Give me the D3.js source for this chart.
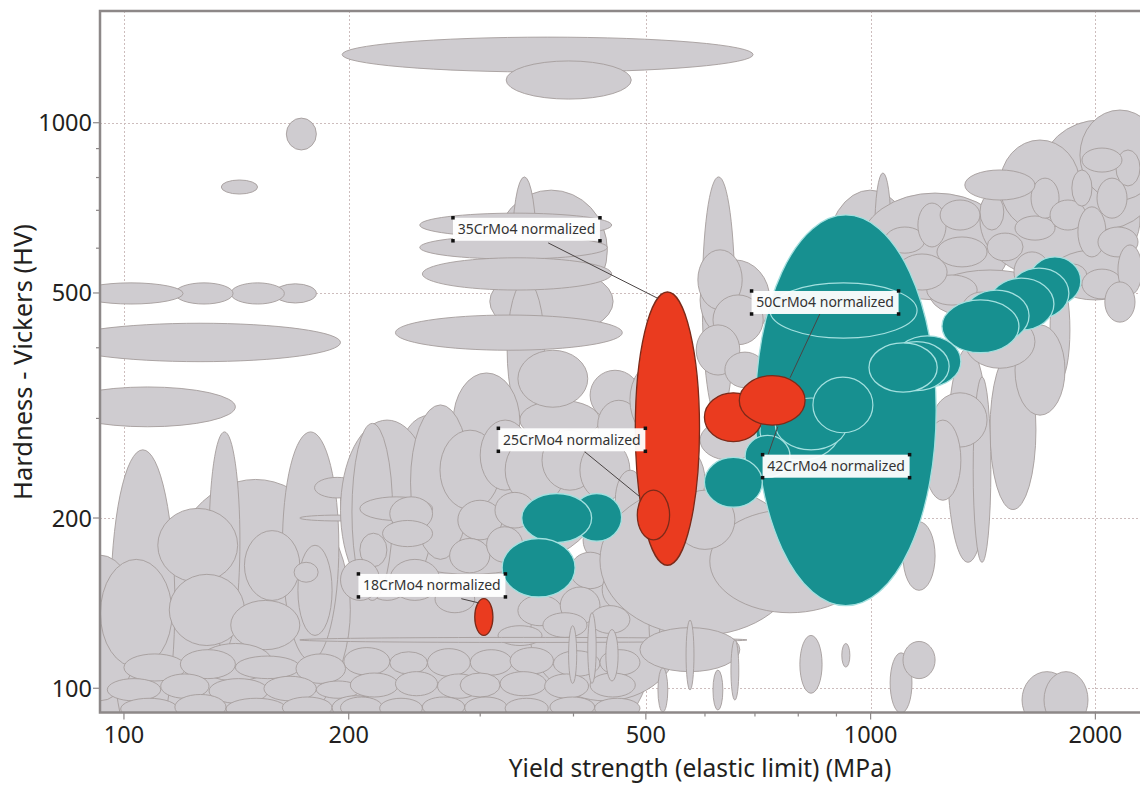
<!DOCTYPE html>
<html>
<head>
<meta charset="utf-8">
<script src="https://cdn.jsdelivr.net/npm/d3@7"></script>
<style>
  body { margin: 0; background: #fff; }
  svg text { font-family: "Noto Sans", "DejaVu Sans", sans-serif; }
</style>
</head>
<body>
<svg id="chart" width="1140" height="785"></svg>
<script>
// Material property chart: yield strength vs Vickers hardness (both log scales).
// Every bubble is a material: [yield min, yield max, hardness min, hardness max].

const xTickLabels = [100, 200, 500, 1000, 2000];
const yTickLabels = [100, 200, 500, 1000];
const xTitle = "Yield strength (elastic limit) (MPa)";
const yTitle = "Hardness - Vickers (HV)";

// Broad families that sit underneath the dense lower cloud
const greyBackdrop = [
  [90, 214, 61, 176], [177, 506, 69, 183], [350, 556, 95, 162], [195, 434, 159, 292]
];

// Background materials, upper and left parts of the chart
const greyIsolated = [
  [196, 696, 1229, 1417], [325, 478, 1101, 1286], [165, 181, 895, 1019], [135, 151, 748, 792],
  [159, 181, 480, 519], [139, 164, 478, 521], [117, 140, 478, 521], [87, 120, 478, 521],
  [82, 195, 378, 442], [82, 141, 290, 341]
];

// Column of materials above the 500 MPa region
const greyMiddle = [
  [314, 444, 466, 760], [331, 357, 430, 802], [309, 452, 421, 554], [326, 366, 298, 527],
  [249, 450, 628, 692], [249, 444, 574, 631], [251, 450, 506, 577], [231, 465, 396, 457],
  [339, 434, 275, 323], [337, 418, 314, 396], [276, 339, 243, 361], [421, 491, 298, 365],
  [431, 491, 264, 323], [234, 282, 215, 304]
];

// Softer steels and alloys at the lower left
const greyLeft = [
  [112, 201, 81, 234], [96, 117, 75, 264], [130, 143, 117, 284], [163, 194, 112, 284],
  [82, 105, 95, 172], [93, 116, 109, 169], [111, 142, 154, 208], [115, 145, 119, 159],
  [145, 172, 143, 190], [139, 172, 117, 143], [171, 190, 124, 179], [180, 207, 217, 236],
  [169, 182, 154, 167], [126, 158, 103, 120], [172, 220, 197.6, 202.4],
  [100, 121, 103, 115], [119, 141, 104, 117], [141, 172, 104, 114], [170, 198, 102, 115],
  [95, 112, 95, 104], [112, 130, 96, 106], [130, 156, 94, 104], [154, 181, 95, 105], [181, 207, 96, 103],
  [99, 118, 88, 96], [117, 137, 88, 97.5], [137, 165, 88, 96], [163, 190, 88.5, 96.5], [190, 220, 88, 97]
];

const greyMidLower = [
  [195, 260, 143, 298], [202, 229, 143, 294], [242, 291, 169, 317], [207, 259, 198, 218],
  [227, 259, 190, 218], [222, 259, 178, 198], [207, 225, 164, 188], [195, 220, 143, 169],
  [227, 265, 143, 169],
  [197, 227, 105.5, 118], [227, 255, 106, 116], [255, 291, 105, 117.5],
  [201, 233, 96.5, 106.4], [231, 263, 97, 107], [263, 300, 96, 106],
  [195, 222, 88.5, 96.5], [220, 251, 88.5, 96], [251, 286, 89, 96.5]
];

// Dense cluster around 300-650 MPa
const greyCentre = [
  [265, 319, 207, 286], [300, 350, 224, 298], [324, 390, 211, 280], [363, 431, 224, 286],
  [408, 476, 215, 275], [280, 321, 183, 215], [314, 355, 192, 222], [412, 472, 167, 200],
  [455, 499, 190, 243], [273, 309, 160, 184], [306, 342, 167, 193], [396, 448, 150, 174],
  [437, 488, 138, 162], [261, 295, 136, 152], [337, 386, 129, 146], [384, 434, 130, 151],
  [317, 363, 119, 129], [364, 417, 123, 136], [421, 476, 125, 140],
  [291, 331, 105.5, 117], [329, 376, 106, 118], [376, 434, 105, 116.5], [434, 491, 105.5, 117],
  [282, 319, 96.5, 106.4], [319, 368, 97, 107], [366, 419, 96, 106], [421, 484, 96.5, 106.4],
  [286, 326, 88.5, 96.5], [324, 370, 88.5, 96], [372, 427, 89, 96.5], [427, 491, 88.5, 96],
  [172, 683, 120.5, 123],
  [394, 404, 102, 129], [418, 429, 102, 136], [442, 459, 103, 127], [505, 522, 117, 140]
];

// Quenched and tempered steels, 500-1200 MPa
const greyRightCentre = [
  [434, 804, 124, 229], [609, 998, 136, 207], [491, 668, 107, 128],
  [519, 535, 90.8, 108.6], [566, 580, 99.3, 132], [615, 634, 91.5, 107.7], [650, 666, 95.3, 121.7],
  [514, 600, 202, 269], [547, 658, 176, 224], [591, 711, 253, 298],
  [595, 658, 298, 802], [591, 733, 413, 572], [587, 673, 467, 596], [615, 718, 405, 496],
  [584, 668, 358, 439], [638, 722, 340, 393], [476, 573, 275, 381],
  [869, 1147, 430, 760], [1013, 1065, 510, 815]
];

// High strength steels, upper right
const greyUpperRight = [
  [968, 1537, 486, 751], [1401, 2295, 527, 859], [1686, 2441, 646, 1011], [1907, 2441, 730, 1053],
  [1490, 1907, 646, 932], [1201, 1739, 448, 549], [1739, 2295, 486, 596],
  [1045, 1182, 588, 654], [1157, 1262, 603, 721], [1227, 1432, 556, 628], [1401, 1508, 646, 748],
  [1432, 1600, 570, 638], [1561, 1766, 620, 684], [1640, 1788, 678, 798], [1739, 1942, 646, 730],
  [1860, 1979, 712, 825], [1895, 2066, 579, 710], [2010, 2205, 678, 798], [2016, 2281, 579, 654],
  [2131, 2295, 773, 895], [1919, 2171, 818, 902], [1189, 1389, 476, 538], [1325, 1499, 434, 502],
  [1556, 1739, 502, 591], [1777, 1949, 510, 563], [1919, 2171, 488, 551], [2144, 2309, 496, 608],
  [1085, 1266, 506, 586], [2059, 2260, 444, 523], [1337, 1660, 730, 825], [1239, 1401, 646, 730]
];

const greyLowerRight = [
  [1266, 1440, 167, 400], [1445, 1665, 207, 396], [1372, 1449, 167, 355], [1739, 1849, 351, 527],
  [1212, 1432, 267, 333], [1105, 1220, 149, 197], [1182, 1321, 215, 298], [1561, 1821, 304, 439],
  [1337, 1660, 368, 457],
  [804, 861, 98, 124], [915, 938, 109, 120], [1062, 1136, 90.4, 115.5], [1105, 1220, 104, 121],
  [1595, 1860, 85, 107], [1707, 1955, 85, 107]
];

// Highlighted family (teal)
const tealBig = [[701, 1224, 140, 687]];
const tealInner = [[733, 1154, 416, 521], [711, 910, 253, 323], [745, 930, 264, 326], [837, 1007, 283, 355]];
const tealChain = [
  [1630, 1912, 476, 579], [1532, 1843, 451, 553], [1440, 1760, 430, 531], [1334, 1630, 410, 506],
  [1246, 1580, 392, 486], [1075, 1321, 341, 420], [1043, 1274, 336, 410], [995, 1228, 334, 408]
];
const tealLow = [[398, 464, 182, 221], [341, 423, 181, 221], [321, 402, 145, 184], [679, 780, 236, 280], [599, 716, 209, 256]];

// Cr-Mo steels, normalized (red)
const redGrades = ["35CrMo4", "25CrMo4", "42CrMo4", "50CrMo4", "18CrMo4"];
const redRanges = [[484, 590, 165, 502], [487, 538, 183, 224], [599, 716, 273, 333], [667, 817, 292, 357], [295, 312, 124, 144]];

// Annotation labels (data space): label centre, leader start, leader end
const labelTexts = ["35CrMo4 normalized", "25CrMo4 normalized", "50CrMo4 normalized", "42CrMo4 normalized", "18CrMo4 normalized"];
const labelCentres = [[346, 648], [398, 275], [869, 481], [899, 247], [258.5, 152]];
const leaderStarts = [[370, 613], [414, 262], [855, 459], [729, 259], [283, 144]];
const leaderEnds = [[519, 489], [491, 218], [780, 354], [751, 290], [299, 141.5]];

const svg = d3.select("#chart");
const plot = { left: 100, right: 1140, top: 11, bottom: 712.5 };

const x = d3.scaleLog().domain([92.88, 2295]).range([plot.left, plot.right]);
const y = d3.scaleLog().domain([90.6, 1576]).range([plot.bottom, plot.top]);

svg.append("defs").append("clipPath").attr("id", "plotClip")
  .append("rect")
  .attr("x", plot.left).attr("y", plot.top)
  .attr("width", plot.right - plot.left).attr("height", plot.bottom - plot.top);

// grid
const grid = svg.append("g").attr("stroke", "#cdbdbd").attr("stroke-width", 1).attr("stroke-dasharray", "2,2");
grid.selectAll(null).data(xTickLabels).join("line")
  .attr("x1", d => Math.round(x(d)) + 0.5).attr("x2", d => Math.round(x(d)) + 0.5)
  .attr("y1", plot.top).attr("y2", plot.bottom);
grid.selectAll(null).data(yTickLabels).join("line")
  .attr("y1", d => Math.round(y(d)) + 0.5).attr("y2", d => Math.round(y(d)) + 0.5)
  .attr("x1", plot.left).attr("x2", plot.right);

const bubbles = svg.append("g").attr("clip-path", "url(#plotClip)");

function drawBubbles(data, fill, stroke, width) {
  bubbles.append("g").selectAll("ellipse").data(data).join("ellipse")
    .attr("cx", d => (x(d[0]) + x(d[1])) / 2)
    .attr("cy", d => (y(d[2]) + y(d[3])) / 2)
    .attr("rx", d => Math.abs(x(d[1]) - x(d[0])) / 2)
    .attr("ry", d => Math.abs(y(d[3]) - y(d[2])) / 2)
    .attr("fill", fill)
    .attr("stroke", stroke)
    .attr("stroke-width", width);
}

const greyFill = "#cfccd0", greyLine = "#a59d9c";
[greyBackdrop, greyIsolated, greyMiddle, greyLeft, greyMidLower, greyCentre, greyRightCentre, greyUpperRight, greyLowerRight]
  .forEach(set => drawBubbles(set, greyFill, greyLine, 0.9));

const tealFill = "#179090", tealLine = "#a3e0df";
drawBubbles(tealBig, tealFill, tealLine, 1.3);
drawBubbles(tealInner, tealFill, tealLine, 1.2);
drawBubbles(tealChain, tealFill, tealLine, 1.3);
drawBubbles(tealLow, tealFill, tealLine, 1.3);

drawBubbles(redRanges, "#ea3b1f", "#7c2a19", 1.3);

// frame
const frame = svg.append("g").attr("stroke", "#8d8888").attr("stroke-width", 2.5).attr("fill", "none");
frame.append("path")
  .attr("d", `M${plot.right + 5},${plot.top} H${plot.left} V${plot.bottom} H${plot.right + 5}`);

// ticks (major labelled, minor at 2..9 of each decade)
const tickG = svg.append("g").attr("stroke", "#8d8888").attr("stroke-width", 1.2);
tickG.selectAll(null).data(x.ticks()).join("line")
  .attr("x1", d => x(d)).attr("x2", d => x(d))
  .attr("y1", plot.bottom).attr("y2", d => plot.bottom + (xTickLabels.includes(d) ? 7 : 4));
tickG.selectAll(null).data(y.ticks()).join("line")
  .attr("y1", d => y(d)).attr("y2", d => y(d))
  .attr("x1", plot.left).attr("x2", d => plot.left - (yTickLabels.includes(d) ? 7 : 4));

const labelColour = "#231f20";
svg.append("g").selectAll("text").data(xTickLabels).join("text")
  .attr("x", d => x(d)).attr("y", 743)
  .attr("text-anchor", "middle").attr("font-size", 23.5).attr("fill", labelColour)
  .text(d => d);
svg.append("g").selectAll("text").data(yTickLabels).join("text")
  .attr("x", 92).attr("y", d => y(d) + 8.5)
  .attr("text-anchor", "end").attr("font-size", 23.5).attr("fill", labelColour)
  .text(d => d);

svg.append("text")
  .attr("x", 700).attr("y", 777)
  .attr("text-anchor", "middle").attr("font-size", 24.5).attr("fill", labelColour)
  .text(xTitle);
svg.append("text")
  .attr("transform", "translate(32,362) rotate(-90)")
  .attr("text-anchor", "middle").attr("font-size", 25.5).attr("fill", labelColour)
  .text(yTitle);

// annotation leaders
svg.append("g").attr("stroke", "#4a4444").attr("stroke-width", 1)
  .selectAll("line").data(leaderStarts).join("line")
  .attr("x1", d => x(d[0])).attr("y1", d => y(d[1]))
  .attr("x2", (d, i) => x(leaderEnds[i][0])).attr("y2", (d, i) => y(leaderEnds[i][1]));

// annotation boxes
const ann = svg.append("g").selectAll("g").data(labelTexts).join("g")
  .attr("transform", (d, i) => `translate(${x(labelCentres[i][0])},${y(labelCentres[i][1])})`);
const boxW = 147, boxH = 23;
ann.append("rect")
  .attr("x", -boxW / 2).attr("y", -boxH / 2).attr("width", boxW).attr("height", boxH)
  .attr("fill", "#ffffff").attr("fill-opacity", 0.95);
ann.append("text")
  .attr("x", 0).attr("y", 5).attr("text-anchor", "middle")
  .attr("font-size", 14).attr("fill", "#333")
  .text(d => d);
ann.each(function () {
  const g = d3.select(this);
  [[-1, -1], [-1, 1], [1, -1], [1, 1]].forEach(([sx, sy]) => {
    g.append("rect")
      .attr("x", sx * boxW / 2 - 1.75).attr("y", sy * boxH / 2 - 1.75)
      .attr("width", 3.5).attr("height", 3.5).attr("fill", "#111");
  });
});
</script>
</body>
</html>
